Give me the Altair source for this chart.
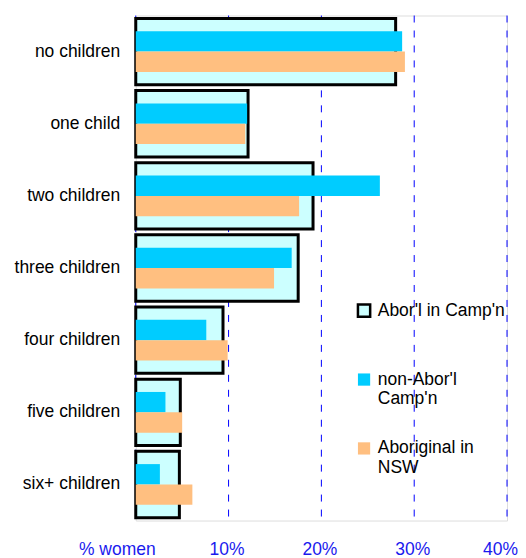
import altair as alt
import pandas as pd

categories = ["no children", "one child", "two children", "three children",
              "four children", "five children", "six+ children"]
series_names = ["Abor'l in Camp'n", "non-Abor'l Camp'n", "Aboriginal in NSW"]
abor_camp = [28.0, 12.1, 19.1, 17.5, 9.4, 4.8, 4.7]
non_abor_camp = [28.7, 12.0, 26.3, 16.8, 7.6, 3.2, 2.6]
abor_nsw = [29.0, 11.8, 17.6, 14.9, 9.9, 5.0, 6.1]
x_ticks = [0, 10, 20, 30, 40]

rows = []
for i, c in enumerate(categories):
    rows.append({"cat": c, "series": series_names[0], "v": abor_camp[i]})
    rows.append({"cat": c, "series": series_names[1], "v": non_abor_camp[i]})
    rows.append({"cat": c, "series": series_names[2], "v": abor_nsw[i]})
df = pd.DataFrame(rows)
grid_df = pd.DataFrame({"v": x_ticks})

FONT = "Liberation Sans"
FS = 17.5

fill_scale = alt.Scale(domain=series_names, range=["#CCFFFF", "#00CCFF", "#FFBF80"])
stroke_scale = alt.Scale(domain=series_names, range=["black", "transparent", "transparent"])

label_expr = """datum.label == "non-Abor'l Camp'n" ? ["non-Abor'l", "Camp'n"] : (datum.label == "Aboriginal in NSW" ? ["Aboriginal in", "NSW"] : [datum.label, ""])"""

legend = alt.Legend(
    title=None, orient="none", legendX=220, legendY=287,
    symbolType="square", symbolSize=150, symbolStrokeWidth=2.5,
    labelFont=FONT, labelFontSize=FS, labelColor="black",
    labelExpr=label_expr, labelBaseline="middle", labelOffset=5,
    rowPadding=29, padding=0, labelLimit=300,
)

x_scale = alt.Scale(domain=[0, 40], nice=False, zero=True)
x_axis = alt.Axis(
    values=x_ticks, title=None, domain=False, ticks=False, grid=False,
    labelColor="#1a1aee", labelFont=FONT, labelFontSize=FS, labelPadding=20,
    labelFlush=False,
    labelExpr="datum.value == 0 ? '% women' : datum.value + '%'",
    labelOffset={"condition": [{"test": "datum.value == 0", "value": -19},
                               {"test": "datum.value == 40", "value": -7}],
                 "value": -2},
)
y_enc = alt.Y(
    "cat:N", sort=categories,
    scale=alt.Scale(paddingInner=0.08, paddingOuter=0.04),
    axis=alt.Axis(title=None, domain=False, ticks=False, labelFont=FONT,
                  labelFontSize=FS, labelColor="black", labelPadding=16,
                  minExtent=123),
)

grid = alt.Chart(grid_df).mark_rule(
    color="#0000FF", strokeDash=[7, 8], strokeWidth=1
).encode(x=alt.X("v:Q", scale=x_scale, axis=x_axis))

box = alt.Chart(df).transform_filter(
    alt.datum.series == series_names[0]
).mark_bar(strokeWidth=3, cornerRadius=0).encode(
    x=alt.X("v:Q", scale=x_scale, axis=x_axis), y=y_enc,
    fill=alt.Fill("series:N", scale=fill_scale, legend=legend),
    stroke=alt.Stroke("series:N", scale=stroke_scale, legend=legend),
)

inner = alt.Chart(df).transform_filter(
    alt.datum.series != series_names[0]
).mark_bar(strokeWidth=0).encode(
    x=alt.X("v:Q", scale=x_scale, axis=x_axis), y=y_enc,
    yOffset=alt.YOffset("series:N", sort=series_names[1:],
                        scale=alt.Scale(domain=series_names[1:], paddingInner=0, paddingOuter=0.63)),
    fill=alt.Fill("series:N", scale=fill_scale, legend=legend),
    stroke=alt.Stroke("series:N", scale=stroke_scale, legend=legend),
)

chart = alt.layer(grid, box, inner).properties(
    width=372, height=506
).configure_view(stroke=None).configure(padding={"left": 5, "top": 6, "right": 0, "bottom": 0})

chart.save("out.html", embed_options={"renderer": "svg", "actions": False})
